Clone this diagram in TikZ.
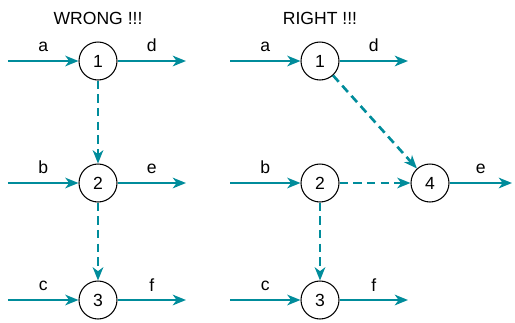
\documentclass[tikz,border=0pt]{standalone}
\usepackage{fontspec}
\setmainfont{Liberation Sans}
\usetikzlibrary{arrows.meta, positioning}
\definecolor{flowTeal}{RGB}{0,140,155}

\begin{document}
\begin{tikzpicture}[
    x=0.02cm, y=-0.02cm,
    evt/.style={draw, circle, line width=0.6pt, minimum size=0.76cm, inner sep=0pt},
    act/.style={draw=flowTeal, line width=1.5pt, -{Stealth[length=7.5pt, width=6pt, inset=2.2pt, flowTeal]}},
    dummy/.style={act, dash pattern=on 4.8pt off 3pt},
    lbl/.style={above=1pt}
  ]
    \useasboundingbox (0,0) rectangle (515,322);

    % Titles
    \node (wtitle) at (98,18)  {WRONG !!!};
    \node (rtitle) at (320,18) {RIGHT !!!};

    % WRONG network
    \node[evt] (w1) at (98,61)  {1};
    \node[evt] (w2) at (98,183) {2};
    \node[evt] (w3) at (98,300) {3};
    \coordinate (wa) at (8,61);   \coordinate (wd) at (186,61);
    \coordinate (wb) at (8,183);  \coordinate (we) at (186,183);
    \coordinate (wc) at (8,300);  \coordinate (wf) at (186,300);
    \draw[act] (wa) -- node[lbl] {a} (w1);
    \draw[act] (w1) -- node[lbl] {d} (wd);
    \draw[act] (wb) -- node[lbl] {b} (w2);
    \draw[act] (w2) -- node[lbl] {e} (we);
    \draw[act] (wc) -- node[lbl] {c} (w3);
    \draw[act] (w3) -- node[lbl] {f} (wf);
    \draw[dummy] (w1) -- (w2);
    \draw[dummy] (w2) -- (w3);

    % RIGHT network
    \node[evt] (r1) at (320,61)  {1};
    \node[evt] (r2) at (320,183) {2};
    \node[evt] (r3) at (320,300) {3};
    \node[evt] (r4) at (430,183) {4};
    \coordinate (ra) at (230,61);   \coordinate (rd) at (408,61);
    \coordinate (rb) at (230,183);  \coordinate (re) at (512,183);
    \coordinate (rc) at (230,300);  \coordinate (rf) at (408,300);
    \draw[act] (ra) -- node[lbl] {a} (r1);
    \draw[act] (r1) -- node[lbl] {d} (rd);
    \draw[act] (rb) -- node[lbl] {b} (r2);
    \draw[act] (r4) -- node[lbl] {e} (re);
    \draw[act] (rc) -- node[lbl] {c} (r3);
    \draw[act] (r3) -- node[lbl] {f} (rf);
    \draw[dummy] (r1) -- (r4);
    \draw[dummy] (r2) -- (r4);
    \draw[dummy] (r2) -- (r3);
  \end{tikzpicture}
\end{document}
